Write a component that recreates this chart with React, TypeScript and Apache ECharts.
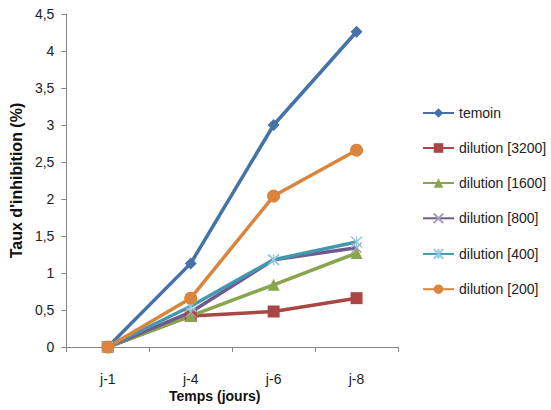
import React, { useEffect, useRef } from "react";
import * as echarts from "echarts";

// Sampling days
const categories = ["j-1", "j-4", "j-6", "j-8"];

// Inhibition rate (%) per treatment
const temoin = [0, 1.13, 3.0, 4.26];
const dilution3200 = [0, 0.42, 0.48, 0.66];
const dilution1600 = [0, 0.42, 0.84, 1.27];
const dilution800 = [0, 0.47, 1.18, 1.34];
const dilution400 = [0, 0.55, 1.18, 1.42];
const dilution200 = [0, 0.66, 2.04, 2.66];

const seriesNames = [
  "temoin",
  "dilution [3200]",
  "dilution [1600]",
  "dilution [800]",
  "dilution [400]",
  "dilution [200]",
];

const FONT = "'Liberation Sans', Arial, sans-serif";

const X_SYMBOL = "path://M0,0L10,10M10,0L0,10";
const STAR_SYMBOL = "path://M5,0L5,10M0,0L10,10M10,0L0,10";

export default function App() {
  const ref = useRef<HTMLDivElement>(null);

  useEffect(() => {
    if (!ref.current) return;
    const chart = echarts.init(ref.current, undefined, { renderer: "svg" });

    const mk = (
      name: string,
      data: number[],
      color: string,
      symbol: string,
      symbolSize: number,
      markerStroke?: string
    ) => ({
      name,
      type: "line",
      data,
      symbol,
      symbolSize,
      color,
      lineStyle: { width: 3.5, color },
      itemStyle: markerStroke
        ? { color: "none", borderColor: markerStroke, borderWidth: 1.5 }
        : { color, borderWidth: 0 },
    });

    chart.setOption({
      animation: false,
      backgroundColor: "#ffffff",
      grid: { left: 51, right: 153, top: 14, bottom: 63 },
      legend: {
        orient: "vertical",
        left: 417,
        top: 101,
        itemWidth: 31,
        itemHeight: 12,
        itemGap: 21,
        textStyle: { fontFamily: FONT, fontSize: 14, color: "#222" },
        data: seriesNames,
      },
      xAxis: {
        type: "category",
        data: categories,
        boundaryGap: true,
        axisLine: { lineStyle: { color: "#868686", width: 1 } },
        axisTick: { show: true, length: 5, lineStyle: { color: "#868686" } },
        axisLabel: { fontFamily: FONT, fontSize: 14, color: "#222", margin: 25 },
      },
      yAxis: {
        type: "value",
        min: 0,
        max: 4.5,
        interval: 0.5,
        splitLine: { show: false },
        axisLine: { show: true, lineStyle: { color: "#868686", width: 1 } },
        axisTick: { show: true, length: 5, lineStyle: { color: "#868686" } },
        axisLabel: {
          fontFamily: FONT,
          fontSize: 14,
          color: "#222",
          margin: 12,
          formatter: (v: number) => String(v).replace(".", ","),
        },
        name: "Taux d'inhibition (%)",
        nameLocation: "middle",
        nameGap: 35,
        nameTextStyle: { fontFamily: FONT, fontSize: 16, fontWeight: "bold", color: "#111" },
      },
      graphic: [
        {
          type: "text",
          left: 169,
          top: 389,
          style: {
            text: "Temps (jours)",
            fontFamily: FONT,
            fontSize: 14,
            fontWeight: "bold",
            fill: "#111",
          },
        },
      ],
      series: [
        mk(seriesNames[0], temoin, "#4572A7", "diamond", 12),
        mk(seriesNames[1], dilution3200, "#AA4643", "rect", 12),
        mk(seriesNames[2], dilution1600, "#89A54E", "triangle", 12),
        mk(seriesNames[3], dilution800, "#71588F", X_SYMBOL, 10, "#A99BBD"),
        mk(seriesNames[4], dilution400, "#4198AF", STAR_SYMBOL, 11, "#93CDDD"),
        mk(seriesNames[5], dilution200, "#DB843D", "circle", 13),
      ],
    });

    return () => chart.dispose();
  }, []);

  return (
    <div
      ref={ref}
      style={{ position: "fixed", left: 0, top: 0, width: 551, height: 410 }}
    />
  );
}
